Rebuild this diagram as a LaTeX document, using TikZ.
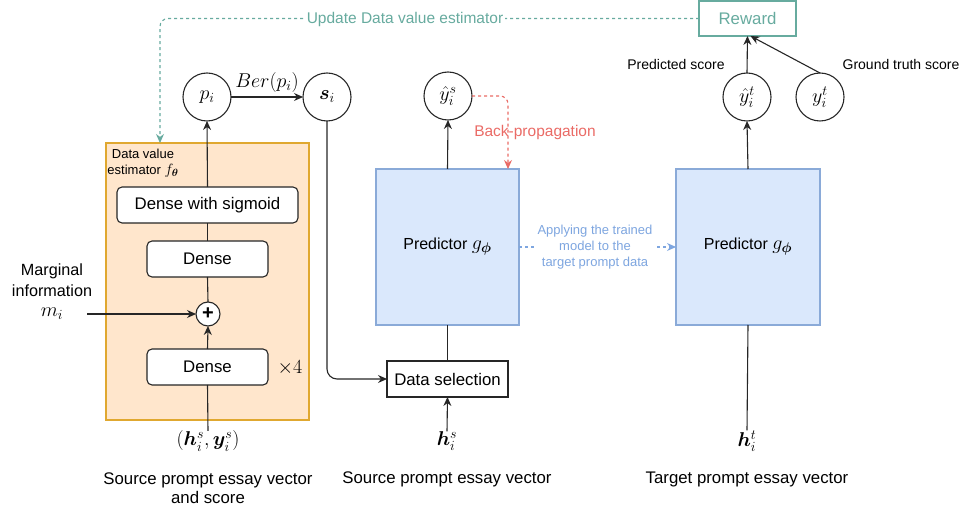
\documentclass[tikz,border=0pt]{standalone}
\usepackage{fix-cm}
\usepackage{amsmath,bm}
\usepackage{fontspec}
\setmainfont{Liberation Sans}
\usetikzlibrary{arrows.meta}
\definecolor{tealc}{HTML}{67AB9F}
\definecolor{redc}{HTML}{EA6B66}
\definecolor{bluec}{HTML}{7EA6E0}
\definecolor{predfill}{HTML}{DAE8FC}
\definecolor{predline}{HTML}{8AAAD8}
\definecolor{estfill}{HTML}{FFE6CC}
\definecolor{estline}{HTML}{E0A830}
\newcommand{\fsmain}{\fontsize{16.8}{19.5}\selectfont}
\newcommand{\fspred}{\fontsize{16}{19}\selectfont}
\newcommand{\fsmarg}{\fontsize{16.2}{20.5}\selectfont}
\newcommand{\fssmall}{\fontsize{14}{17}\selectfont}
\newcommand{\fstiny}{\fontsize{13}{16}\selectfont}
\newcommand{\fsmid}{\fontsize{15.5}{18}\selectfont}
\newcommand{\fsmath}{\fontsize{20}{22}\selectfont}
\tikzset{
  every node/.style={inner sep=0pt, outer sep=0pt},
  line/.style={line width=1.1pt, draw=black!85},
  arr/.style={line, -{Stealth[length=9pt,width=8pt]}},
  varcircle/.style={circle, draw=black!85, line width=1.1pt, minimum size=48pt, font=\fsmath},
  densebox/.style={rectangle, rounded corners=5pt, draw=black!85, fill=white, line width=1.1pt, minimum height=36pt, font=\fsmain},
  predbox/.style={rectangle, draw=predline, fill=predfill, line width=1.3pt, minimum width=143pt, minimum height=156pt, font=\fspred},
  plain/.style={font=\fsmain, align=center},
}
\begin{document}
\begin{tikzpicture}[x=1pt,y=-1pt]
\useasboundingbox (0,0) rectangle (964,510);

% estimator box
\node[rectangle, draw=estline, fill=estfill, line width=1.2pt, minimum width=203pt, minimum height=277pt] (est) at (207.5,281.5) {};
\node[font=\fstiny, align=center] (estlab) at (143,163) {Data value\\estimator {\fontsize{15}{16}\selectfont$f_{\bm{\theta}}$}};

\node[densebox, minimum width=181pt] (dsig) at (207.5,205) {Dense with sigmoid};
\node[densebox, minimum width=121pt] (dense1) at (207.5,259) {Dense};
\node[circle, draw=black!85, fill=white, line width=1.1pt, minimum size=24pt, font=\fontsize{20}{20}\selectfont\bfseries] (plus) at (208,314) {+};
\node[densebox, minimum width=121pt] (dense2) at (207.5,367) {Dense};
\node[font=\fsmath] (times) at (290,368) {$\times 4$};

% circles
\node[varcircle] (pi) at (207,97) {$p_i$};
\node[varcircle] (si) at (327,97) {$\bm{s}_i$};
\node[varcircle] (yhs) at (448,96) {$\hat{y}_i^s$};
\node[varcircle] (yht) at (747,97) {$\hat{y}_i^t$};
\node[varcircle] (yt) at (820,97) {$y_i^t$};

% reward
\node[rectangle, draw=tealc, line width=1.2pt, minimum width=97pt, minimum height=35pt, text=tealc, font=\fsmain] (reward) at (747.5,18.5) {Reward};

% predictors
\node[predbox] (pred1) at (447.5,247) {Predictor {\fsmath$g_{\bm{\phi}}$}};
\node[predbox, minimum width=144pt] (pred2) at (748,247) {Predictor {\fsmath$g_{\bm{\phi}}$}};

% data selection
\node[rectangle, draw=black!85, fill=white, line width=1.1pt, minimum width=121pt, minimum height=36pt, font=\fsmain] (dsel) at (447.5,379) {Data selection};

% bottom texts
\node[font=\fsmath] (hy) at (208,441) {$(\bm{h}_i^s, \bm{y}_i^s)$};
\node[font=\fsmath] (hs) at (447,441) {$\bm{h}_i^s$};
\node[font=\fsmath] (ht) at (747,441) {$\bm{h}_i^t$};
\node[plain] (srcl) at (208,488) {Source prompt essay vector\\and score};
\node[plain] (srcm) at (447,479) {Source prompt essay vector};
\node[plain] (tgt) at (747,479) {Target prompt essay vector};

% marginal
\node[font=\fsmarg, align=center] (marg) at (52,292) {Marginal\\information\\{\fsmath$m_i$}};
\coordinate (mstart) at (87,314);

% labels
\node[font=\fssmall] (predsc) at (676,65) {Predicted score};
\node[font=\fssmall] (gtsc) at (901,65) {Ground truth score};

% connectors in estimator
\draw[line] (hy.north) -- (dense2.south);
\draw[arr] (dense2.north) -- (plus.south);
\draw[arr] (mstart) -- (plus.west);
\draw[line] (plus.north) -- (dense1.south);
\draw[line] (dense1.north) -- (dsig.south);
\draw[arr] (dsig.north) -- (pi.south);

\draw[arr] (pi.east) -- node[above=5pt, font=\fsmath] (ber) {$Ber(p_i)$} (si.west);
\draw[arr, rounded corners=10pt] (si.south) |- (dsel.west);
\draw[arr] (hs.north) -- (dsel.south);
\draw[line] (pred1.south) -- (dsel.north);
\draw[arr] (pred1.north) -- (yhs.south);

% back-propagation
\draw[redc, line width=1.1pt, dashed, rounded corners=8pt, -{Stealth[length=9pt,width=8pt]}] (yhs.east) -| ([xshift=-11pt]pred1.north east);
\node[font=\fsmid, text=redc] (bp) at (535,132) {Back-propagation};

% applying
\draw[bluec, line width=1.1pt, dashed, -{Stealth[length=9pt,width=8pt]}] (pred1.east) -- (pred2.west);
\node[font=\fstiny, text=bluec, align=center, fill=white, inner sep=2pt] (apply) at (595,247) {Applying the trained\\model to the\\target prompt data};

% target side
\draw[arr] (pred2.north) -- (yht.south);
\draw[line] (pred2.south) -- (ht.north);
\draw[arr] (yht.north) -- (reward.south);
\draw[arr] (yt.north) -- ([xshift=3pt]reward.south);

% update
\draw[tealc, line width=1.1pt, dashed, rounded corners=8pt, -{Stealth[length=9pt,width=8pt]}] (reward.west) -| ([xshift=54pt]est.north west);
\node[font=\fsmid, text=tealc, fill=white, inner xsep=2pt, inner ysep=1pt] (upd) at (405,19) {Update Data value estimator};
\end{tikzpicture}
\end{document}
